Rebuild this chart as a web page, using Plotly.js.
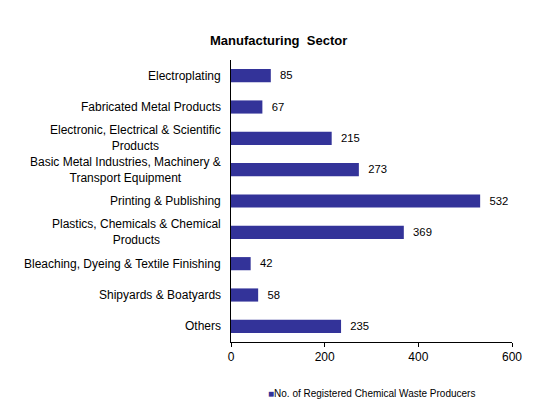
<!DOCTYPE html>
<html>
<head>
<meta charset="utf-8">
<script src="https://cdn.plot.ly/plotly-3.0.1.min.js"></script>
<style>
  html, body { margin: 0; padding: 0; background: #fff; }
  #chart { width: 541px; height: 408px; }
</style>
</head>
<body>
<div id="chart"></div>
<script>
"use strict";

// sectors, top to bottom
let categories = [
    "Electroplating",
    "Fabricated Metal Products",
    "Electronic, Electrical & Scientific<br>Products",
    "Basic Metal Industries, Machinery &<br>Transport Equipment",
    "Printing & Publishing",
    "Plastics, Chemicals & Chemical<br>Products",
    "Bleaching, Dyeing & Textile Finishing",
    "Shipyards & Boatyards",
    "Others"
];
let producers = [85, 67, 215, 273, 532, 369, 42, 58, 235];
let seriesName = "No. of Registered Chemical Waste Producers";
let xTicks = [0, 200, 400, 600];

let FONT = "Arial, 'Liberation Sans', sans-serif";
let BAR_COLOR = "#333399";

let trace = {
    type: "bar",
    orientation: "h",
    y: categories,
    x: producers,
    name: seriesName,
    marker: {color: BAR_COLOR},
    texttemplate: "\u00a0\u00a0%{x}",
    textposition: "outside",
    cliponaxis: false,
    textfont: {family: FONT, size: 12, color: "#000"},
    hoverinfo: "none"
};

// category labels as annotations so that wrapped lines are centred
let annotations = categories.map(function (c) {
    return {
        xref: "paper", yref: "y",
        x: 0, y: c,
        xanchor: "right", yanchor: "middle",
        xshift: -8,
        align: "center",
        text: c,
        showarrow: false,
        font: {family: FONT, size: 12, color: "#000"}
    };
});

// small legend key below the plot
annotations.push({
    xref: "paper", yref: "paper",
    x: 0.125, y: -0.181,
    xanchor: "left", yanchor: "middle",
    showarrow: false,
    text: "<span style='color:" + BAR_COLOR + "'>\u25A0</span>" + seriesName,
    font: {family: FONT, size: 10, color: "#000"}
});

let layout = {
    width: 541,
    height: 408,
    margin: {l: 231, r: 29, t: 60, b: 66},
    paper_bgcolor: "#fff",
    plot_bgcolor: "#fff",
    font: {family: FONT, size: 12, color: "#000"},
    title: {
        text: "<b>Manufacturing  Sector</b>",
        font: {family: FONT, size: 13, color: "#000"},
        xref: "container", yref: "container",
        x: 0.515, y: 1 - 40 / 408,
        xanchor: "center", yanchor: "middle"
    },
    bargap: 0.58,
    xaxis: {
        range: [0, 600],
        tickvals: xTicks,
        ticks: "outside",
        ticklen: 4,
        tickcolor: "#000",
        showline: true,
        linecolor: "#000",
        linewidth: 1,
        showgrid: false,
        zeroline: false,
        fixedrange: true,
        automargin: false,
        tickfont: {family: FONT, size: 12, color: "#000"}
    },
    yaxis: {
        autorange: "reversed",
        showticklabels: false,
        ticks: "",
        showline: true,
        linecolor: "#000",
        linewidth: 1,
        showgrid: false,
        zeroline: false,
        fixedrange: true,
        automargin: false
    },
    showlegend: false,
    annotations: annotations
};

Plotly.newPlot("chart", [trace], layout, {displayModeBar: false, staticPlot: true});
</script>
</body>
</html>
